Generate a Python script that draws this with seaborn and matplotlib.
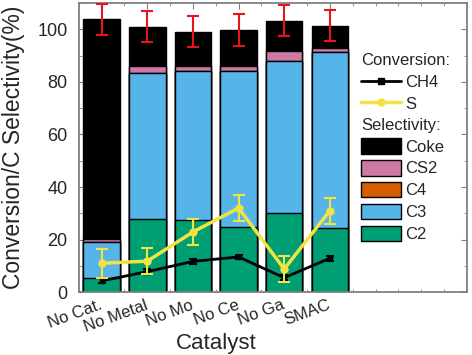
"""
Catalyst screening: stacked selectivity bars with conversion lines
"""

import matplotlib
matplotlib.use('Agg')
import matplotlib.pyplot as plt
from matplotlib.patches import Patch
from matplotlib.lines import Line2D
from matplotlib.ticker import MultipleLocator
import numpy as np
import pandas as pd
import seaborn as sns

sns.set_style('ticks')
plt.rcParams['font.family'] = ['Liberation Sans', 'DejaVu Sans']

# data
categories = ['No Cat.', 'No Metal', 'No Mo', 'No Ce', 'No Ga', 'SMAC']
c2 = [5.5, 27.9, 27.6, 24.7, 30.1, 24.6]
c3 = [13.7, 55.5, 56.7, 59.6, 57.9, 66.7]
c4 = [0.0, 0.0, 0.0, 0.0, 0.0, 0.0]
cs2 = [0.9, 2.5, 1.8, 1.8, 3.7, 1.4]
coke = [83.7, 15.1, 13.0, 13.7, 11.6, 8.7]
total_err = [6.0, 6.0, 6.0, 6.0, 5.9, 6.0]

ch4_conv = [4.3, 7.8, 11.7, 13.4, 5.5, 12.9]
ch4_err = [1.0, 1.0, 0.8, 0.8, 1.0, 1.0]
s_conv = [11.0, 11.8, 22.9, 32.0, 8.8, 31.0]
s_err = [5.5, 5.0, 5.0, 5.0, 5.0, 5.0]

colors = {'Coke': '#000000', 'CS2': '#cc79a7', 'C4': '#d55e00',
          'C3': '#56b4e9', 'C2': '#009e73'}

df = pd.DataFrame({'Catalyst': categories, 'C2': c2, 'C3': c3, 'C4': c4,
                   'CS2': cs2, 'Coke': coke})
order = ['C2', 'C3', 'C4', 'CS2', 'Coke']
cum = df[order].cumsum(axis=1)

fig = plt.figure(figsize=(4.72, 3.55), dpi=100)
ax = fig.add_axes([0.167, 0.177, 0.822, 0.8145])

# stack: draw tallest first so lower layers sit on top
for comp in order[::-1]:
    sns.barplot(x=df['Catalyst'], y=cum[comp], color=colors[comp], saturation=1,
                edgecolor='black', linewidth=1, width=0.8, ax=ax)

x = np.arange(len(categories))
ax.errorbar(x, cum['Coke'], yerr=total_err, fmt='none', ecolor='#e8141c',
            elinewidth=1.5, capsize=4, capthick=1.5, zorder=5)

ax.errorbar(x, ch4_conv, yerr=ch4_err, color='black', lw=2, marker='s', ms=3,
            capsize=3, capthick=1.5, elinewidth=1.5, zorder=6)
ax.errorbar(x, s_conv, yerr=s_err, color='#f0e442', lw=2.5, marker='o', ms=5,
            capsize=4, capthick=1.5, elinewidth=1.5, zorder=7)

ax.set_xlim(-0.5, 8.0)
ax.set_ylim(0, 110)
ax.yaxis.set_major_locator(MultipleLocator(20))
ax.yaxis.set_minor_locator(MultipleLocator(10))
ax.xaxis.set_minor_locator(MultipleLocator(0.5))
ax.tick_params(which='both', direction='in', top=True, right=True, color='#808080')
ax.tick_params(which='major', length=4)
ax.tick_params(which='minor', length=2.5)
ax.tick_params(axis='y', labelsize=13, pad=8)
ax.set_xticks(x)
ax.set_xticklabels(categories, rotation=20, ha='right', va='center',
                   rotation_mode='anchor')
ax.tick_params(axis='x', pad=9, labelsize=12)
for sp in ax.spines.values():
    sp.set_color('#808080')
    sp.set_linewidth(1.3)

ax.set_xlabel('Catalyst', fontsize=16, va='top')
ax.xaxis.set_label_coords(0.353, -0.14)
ax.set_ylabel('Conversion/C Selectivity(%)', fontsize=16.5, labelpad=9)

blank = Line2D([], [], linestyle='none')
handles = [blank,
           Line2D([], [], color='black', lw=2, marker='s', ms=4),
           Line2D([], [], color='#f0e442', lw=2.5, marker='o', ms=5),
           blank]
labels = ['Conversion:', 'CH4', 'S', 'Selectivity:']
for comp in ['Coke', 'CS2', 'C4', 'C3', 'C2']:
    handles.append(Patch(facecolor=colors[comp], edgecolor='black', lw=1))
    labels.append(comp)

leg = ax.legend(handles, labels, loc='upper left', bbox_to_anchor=(0.727, 0.826),
                frameon=False, fontsize=12, handlelength=2.4, handleheight=1.05,
                handletextpad=0.25, labelspacing=0.33, borderpad=0, borderaxespad=0)

# header rows: drop the handle so the text starts at the left edge
for col in leg._legend_handle_box.get_children():
    for row in col.get_children():
        hbox, tbox = row.get_children()
        if tbox.get_children()[0].get_text().endswith(':'):
            hbox.width = 0
            hbox.set_visible(False)
            row.sep = 0

plt.savefig('out.png', dpi=100)
plt.close()
